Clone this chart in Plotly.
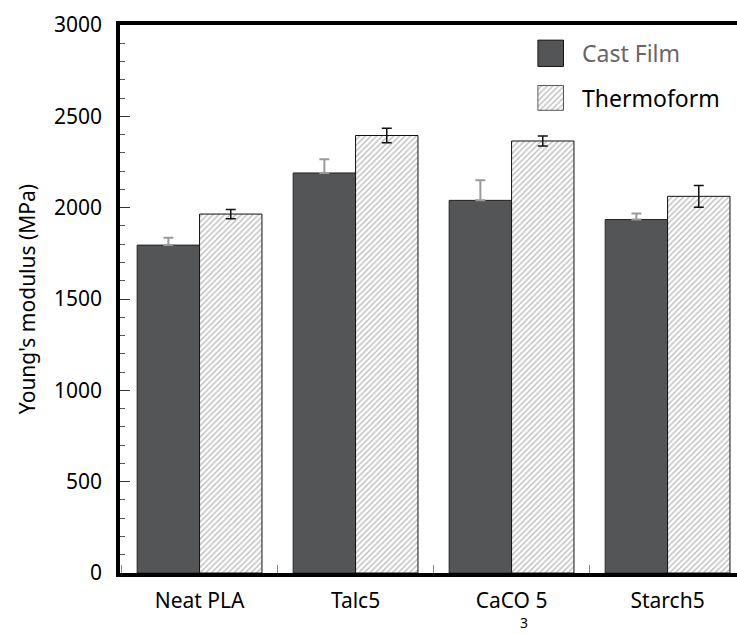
import plotly.graph_objects as go

categories = ["Neat PLA", "Talc5", "CaCO 5", "Starch5"]
cast_film = [1795, 2190, 2040, 1935]
cast_err = [40, 75, 110, 33]
thermoform = [1965, 2395, 2365, 2062]
thermo_err = [25, 40, 28, 60]
y_ticks = [0, 500, 1000, 1500, 2000, 2500, 3000]

FONT = "Noto Sans"
DARK = "#545557"
HATCH = dict(shape="/", size=4, solidity=0.35, fgcolor="#7a7a7a", bgcolor="white")

fig = go.Figure()
fig.add_trace(go.Bar(
    x=categories, y=cast_film, name="Cast Film",
    marker=dict(color=DARK, line=dict(color="#222222", width=1)),
    error_y=dict(type="data", symmetric=False, array=cast_err,
                 arrayminus=[0] * len(cast_err), color="#9a9a9a",
                 thickness=2, width=5),
    showlegend=False,
))
fig.add_trace(go.Bar(
    x=categories, y=thermoform, name="Thermoform",
    marker=dict(color="white", line=dict(color="#111111", width=1), pattern=HATCH),
    error_y=dict(type="data", array=thermo_err, color="#111111",
                 thickness=1.5, width=5),
    showlegend=False,
))

# legend swatches on small hidden axes
fig.add_trace(go.Bar(
    x=[1], y=[0], orientation="h", xaxis="x2", yaxis="y2", width=1,
    marker=dict(color=DARK, line=dict(color="#111111", width=1)),
    showlegend=False, hoverinfo="skip",
))
fig.add_trace(go.Bar(
    x=[1], y=[0], orientation="h", xaxis="x3", yaxis="y3", width=1,
    marker=dict(color="white", line=dict(color="#555555", width=1), pattern=HATCH),
    showlegend=False, hoverinfo="skip",
))

hidden = dict(visible=False, fixedrange=True)
fig.update_layout(
    width=737, height=634,
    margin=dict(l=120, r=0, t=25, b=61),
    paper_bgcolor="white", plot_bgcolor="white",
    barmode="group", bargap=0.2, bargroupgap=0,
    font=dict(family=FONT, size=21, color="black"),
    xaxis=dict(
        range=[-0.51, 3.445], showline=True, linecolor="black", linewidth=3.5,
        mirror=True, ticks="inside", ticklen=8, tickcolor="#888888",
        tickwidth=1, tickson="boundaries", showgrid=False,
        tickfont=dict(family=FONT, size=21), ticklabelstandoff=6,
    ),
    yaxis=dict(
        range=[0, 3000], tickvals=y_ticks, showline=True, linecolor="black",
        linewidth=3.5, ticks="inside", ticklen=10, tickcolor="#333333",
        tickwidth=1, showgrid=False, zeroline=False,
        minor=dict(dtick=100, ticks="inside", ticklen=5, tickcolor="#555555",
                   tickwidth=1, showgrid=False),
        tickfont=dict(family=FONT, size=21), ticklabelstandoff=10,
        title=dict(text="Young's modulus (MPa)", font=dict(family=FONT, size=21),
                   standoff=14),
    ),
    xaxis2=dict(domain=[0.676, 0.720], range=[-0.03, 1.03], anchor="y2", **hidden),
    yaxis2=dict(domain=[0.923, 0.974], range=[-0.53, 0.53], anchor="x2", **hidden),
    xaxis3=dict(domain=[0.676, 0.720], range=[-0.03, 1.03], anchor="y3", **hidden),
    yaxis3=dict(domain=[0.843, 0.891], range=[-0.53, 0.53], anchor="x3", **hidden),
    annotations=[
        dict(text="Cast Film", xref="paper", yref="paper", x=0.746, y=0.9485,
             xanchor="left", yanchor="middle", showarrow=False,
             font=dict(family=FONT, size=23, color="#666666")),
        dict(text="Thermoform", xref="paper", yref="paper", x=0.746, y=0.867,
             xanchor="left", yanchor="middle", showarrow=False,
             font=dict(family=FONT, size=23, color="black")),
        dict(text="3", xref="x", yref="paper", x=2, y=-0.091, xshift=12,
             xanchor="center", yanchor="middle", showarrow=False,
             font=dict(family=FONT, size=14, color="black")),
    ],
)

fig.write_html("out.html")
